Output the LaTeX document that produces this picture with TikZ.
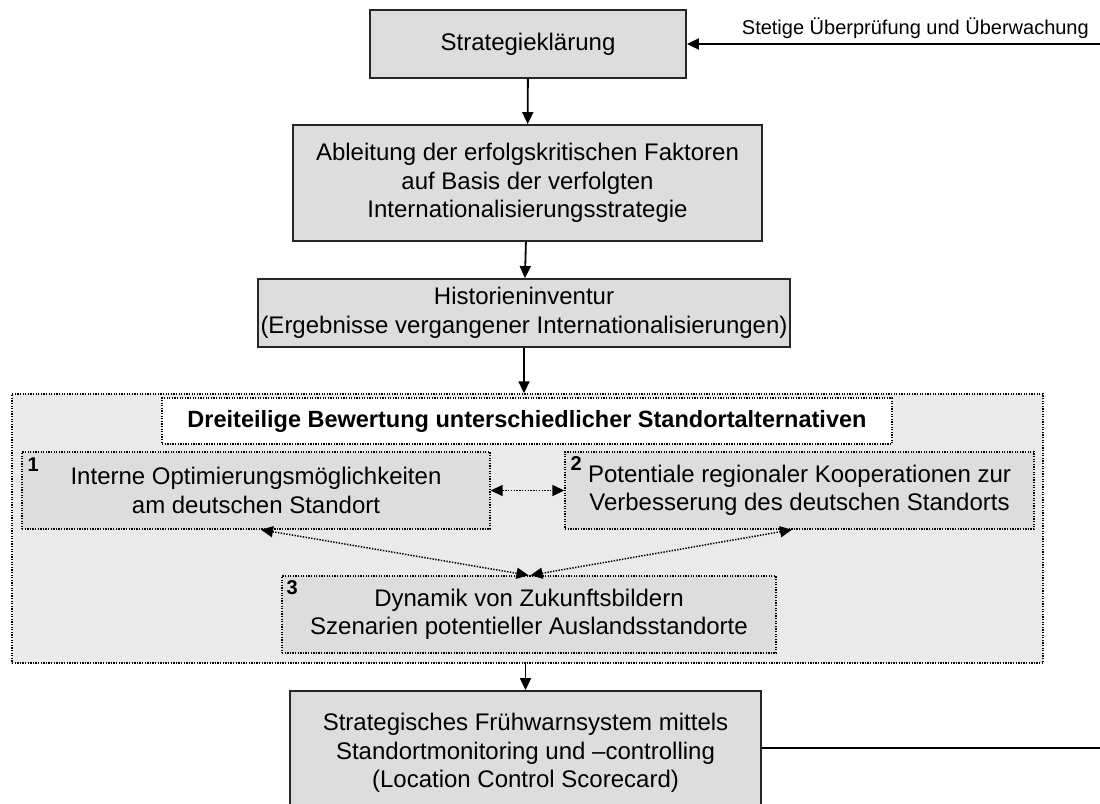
\documentclass[tikz,border=0pt]{standalone}
\usepackage{fontspec}
\setmainfont{Liberation Sans}
\usetikzlibrary{arrows.meta}

\definecolor{boxgrey}{HTML}{DDDDDD}
\definecolor{panelgrey}{HTML}{EAEAEA}
\definecolor{edgegrey}{HTML}{262626}

\tikzset{
  mainfont/.style={font=\fontsize{24}{28.5}\selectfont},
  solidbox/.style={draw=edgegrey, line width=1.8pt, fill=boxgrey, align=center,
    inner sep=0pt, mainfont},
  dotbox/.style={draw=black, line width=1.4pt, dash pattern=on 1.3pt off 1.3pt,
    fill=boxgrey, align=center, inner sep=0pt, mainfont},
  flow/.style={line width=1.8pt, -{Triangle[length=12pt,width=11pt]}},
  link/.style={line width=1.5pt, dash pattern=on 1.4pt off 1.4pt,
    {Triangle[length=12pt,width=11pt]}-{Triangle[length=12pt,width=11pt]}},
  numlabel/.style={font=\fontsize{20}{20}\selectfont\bfseries, inner sep=0pt, anchor=north west},
}

\begin{document}
\begin{tikzpicture}[x=1pt,y=-1pt]
  \clip (0,0) rectangle (1100,803);
  \fill[white] (0,0) rectangle (1100,803);

  % upper chain of process steps
  \node[solidbox, minimum width=316pt, minimum height=68pt] (S1) at (528,44) {Strategieklärung};
  \node[solidbox, minimum width=469pt, minimum height=116pt] (S2) at (527.5,183)
    {Ableitung der erfolgskritischen Faktoren\\auf Basis der verfolgten\\Internationalisierungsstrategie};
  \node[solidbox, minimum width=532pt, minimum height=68pt] (S3) at (524,313)
    {Historieninventur\\(Ergebnisse vergangener Internationalisierungen)};

  % evaluation panel
  \node[dotbox, fill=panelgrey, minimum width=1031pt, minimum height=269pt] (C) at (527.5,528.5) {};
  \node[dotbox, fill=white, minimum width=730pt, minimum height=46pt,
        font=\fontsize{23.5}{27}\selectfont\bfseries] (T) at (527,421)
    {Dreiteilige Bewertung unterschiedlicher Standortalternativen};
  \node[dotbox, minimum width=468pt, minimum height=77pt] (B1) at (256,490.5)
    {Interne Optimierungsmöglichkeiten\\am deutschen Standort};
  \node[dotbox, minimum width=469pt, minimum height=77pt] (B2) at (799.5,490.5)
    {Potentiale regionaler Kooperationen zur\\Verbesserung des deutschen Standorts};
  \node[dotbox, minimum width=494pt, minimum height=77pt] (B3) at (529,614.5)
    {Dynamik von Zukunftsbildern\\Szenarien potentieller Auslandsstandorte};
  \node[numlabel] (n1) at ([xshift=6pt,yshift=-6pt]B1.north west) {1};
  \node[numlabel] (n2) at ([xshift=6pt,yshift=-5pt]B2.north west) {2};
  \node[numlabel] (n3) at ([xshift=5pt,yshift=-5pt]B3.north west) {3};

  % early-warning step, running past the lower edge
  \node[solidbox, minimum width=471pt, minimum height=124pt] (S4) at (525.5,753)
    {Strategisches Frühwarnsystem mittels\\Standortmonitoring und –controlling\\(Location Control Scorecard)};

  % feedback loop ends
  \coordinate (fbTop) at (1100,44);
  \coordinate (fbBot) at (1100,748);
  \node[font=\fontsize{20}{23}\selectfont, inner sep=0pt, anchor=base east] (fbLabel)
    at (1089,34) {Stetige Überprüfung und Überwachung};

  % connectors
  \draw[flow] (S1) -- (S2);
  \draw[flow] (S2) -- (S3);
  \draw[flow] (S3.south) -- (S3.south |- C.north);
  \draw[flow] (S4.north |- C.south) -- (S4.north);
  \draw[flow] (fbTop) -- (S1.east);
  \draw[line width=1.8pt] (S4.east |- fbBot) -- (fbBot);

  \draw[link] (B1.east) -- (B2.west);
  \draw[link] ([xshift=5pt]B1.south) -- ([xshift=-0.5pt]B3.north);
  \draw[link] ([xshift=-7.5pt]B2.south) -- ([xshift=1.5pt]B3.north);
\end{tikzpicture}
\end{document}
